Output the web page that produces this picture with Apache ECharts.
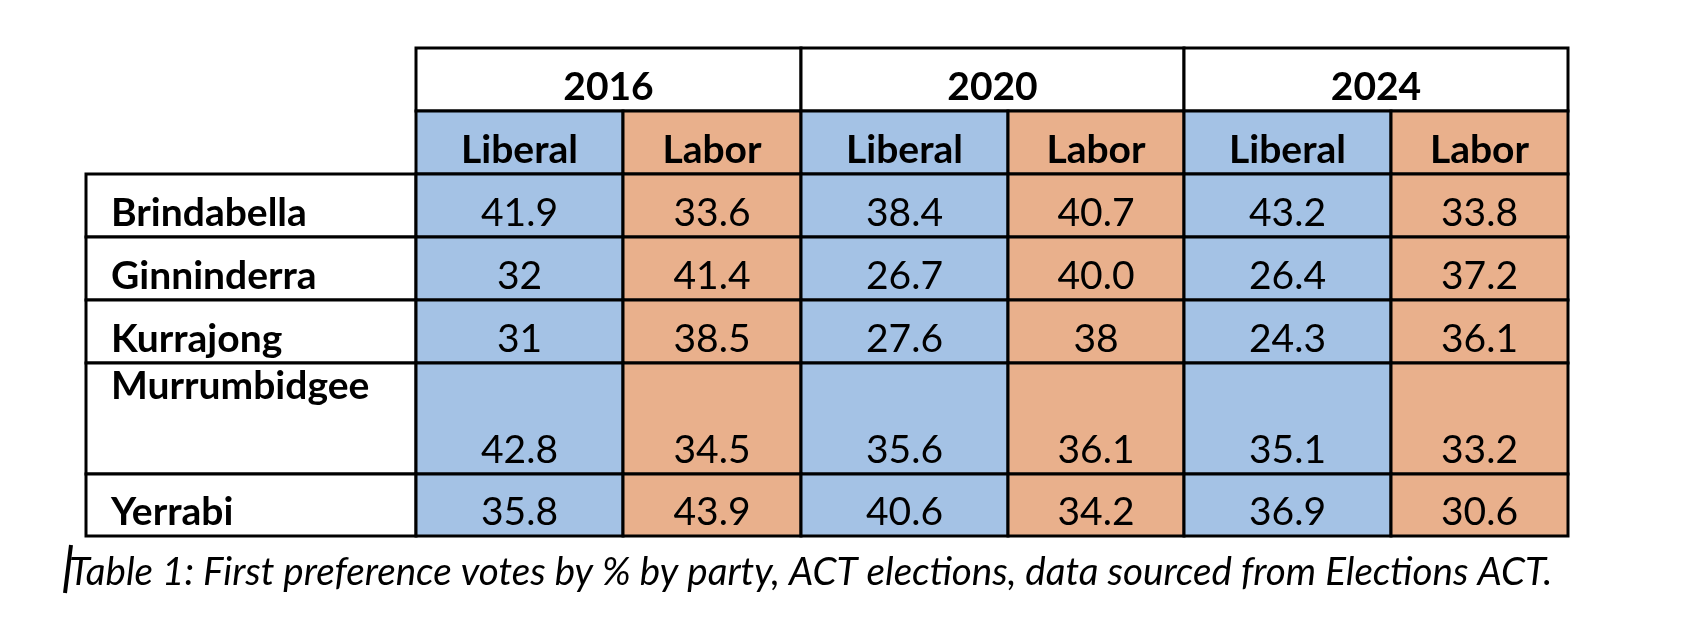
<!DOCTYPE html>
<html lang="en">
<head>
<meta charset="UTF-8">
<title>ACT first preference votes</title>
<script src="https://cdn.jsdelivr.net/npm/echarts@6/dist/echarts.min.js"></script>
<style>
html, body { margin: 0; padding: 0; background: #fff; }
#main { width: 1704px; height: 626px; }
</style>
</head>
<body>
<div id="main"></div>
<script>
var years = ['2016', '2020', '2024'];
var parties = ['Liberal', 'Labor'];
var divisions = ['Brindabella', 'Ginninderra', 'Kurrajong', 'Murrumbidgee', 'Yerrabi'];
// first preference %, written as printed in the table
var liberal2016 = ['41.9', '32', '31', '42.8', '35.8'];
var labor2016 = ['33.6', '41.4', '38.5', '34.5', '43.9'];
var liberal2020 = ['38.4', '26.7', '27.6', '35.6', '40.6'];
var labor2020 = ['40.7', '40.0', '38', '36.1', '34.2'];
var liberal2024 = ['43.2', '26.4', '24.3', '35.1', '36.9'];
var labor2024 = ['33.8', '37.2', '36.1', '33.2', '30.6'];
var caption = 'Table 1: First preference votes by % by party, ACT elections, data sourced from Elections ACT.';

// layout (px): label column first, then the six vote columns
var colWidths = [330, 207, 178, 207, 176, 207, 177];
var rowHeights = [63, 63, 63, 63, 63, 111, 62];
var partyColor = { Liberal: '#a4c2e5', Labor: '#e9b08c' };
var FONT = 'Lato, "Open Sans", sans-serif';

function edges(sizes) {
	var e = [0];
	for (var i = 0; i < sizes.length; i++) e.push(e[i] + sizes[i]);
	return e;
}
var xe = edges(colWidths), ye = edges(rowHeights);

var columns = [liberal2016, labor2016, liberal2020, labor2020, liberal2024, labor2024];

// cells: col from/to, row from/to, text, fill, weight, align, valign
var cells = [];
years.forEach(function(y, i) {
	cells.push({ c0: 1 + i * 2, c1: 3 + i * 2, r0: 0, r1: 1, text: y, fill: '#fff', bold: true });
	parties.forEach(function(p, j) {
		cells.push({ c0: 1 + i * 2 + j, c1: 2 + i * 2 + j, r0: 1, r1: 2, text: p, fill: partyColor[p], bold: true });
	});
});
divisions.forEach(function(d, r) {
	cells.push({ c0: 0, c1: 1, r0: 2 + r, r1: 3 + r, text: d, fill: '#fff', bold: true, left: true,
		top: d === 'Murrumbidgee' });
	columns.forEach(function(col, k) {
		cells.push({ c0: 1 + k, c1: 2 + k, r0: 2 + r, r1: 3 + r, text: col[r],
			fill: partyColor[parties[k % 2]], bold: false });
	});
});

var myChart = echarts.init(document.getElementById('main'));
var option = {
	animation: false,
	grid: { left: 86, top: 48, width: xe[xe.length - 1], height: ye[ye.length - 1] },
	xAxis: { type: 'value', min: 0, max: xe[xe.length - 1], show: false },
	yAxis: { type: 'value', min: 0, max: ye[ye.length - 1], inverse: true, show: false },
	graphic: [
		{
			type: 'text', left: 69, top: 553,
			style: { text: caption, font: 'italic 38.6px ' + FONT, fill: '#000' }
		},
		{
			type: 'line', shape: { x1: 65, y1: 593, x2: 71, y2: 545 },
			style: { stroke: '#000', lineWidth: 4 }
		}
	],
	series: [{
		type: 'custom',
		coordinateSystem: 'cartesian2d',
		data: cells.map(function(c) { return [xe[c.c0], xe[c.c1], ye[c.r0], ye[c.r1]]; }),
		renderItem: function(params, api) {
			var c = cells[params.dataIndex];
			var p0 = api.coord([api.value(0), api.value(2)]);
			var p1 = api.coord([api.value(1), api.value(3)]);
			return {
				type: 'group',
				children: [{
					type: 'rect',
					shape: { x: p0[0], y: p0[1], width: p1[0] - p0[0], height: p1[1] - p0[1] },
					style: { fill: c.fill, stroke: '#000', lineWidth: 3 }
				}, {
					type: 'text',
					style: {
						text: c.text,
						x: c.left ? p0[0] + 25 : (p0[0] + p1[0]) / 2,
						y: c.top ? p0[1] + 23 : p1[1] - 24,
						align: c.left ? 'left' : 'center',
						verticalAlign: 'middle',
						font: (c.bold ? 'bold ' : '') + '39px ' + FONT,
						fill: '#000'
					}
				}]
			};
		}
	}]
};
myChart.setOption(option);
</script>
</body>
</html>
